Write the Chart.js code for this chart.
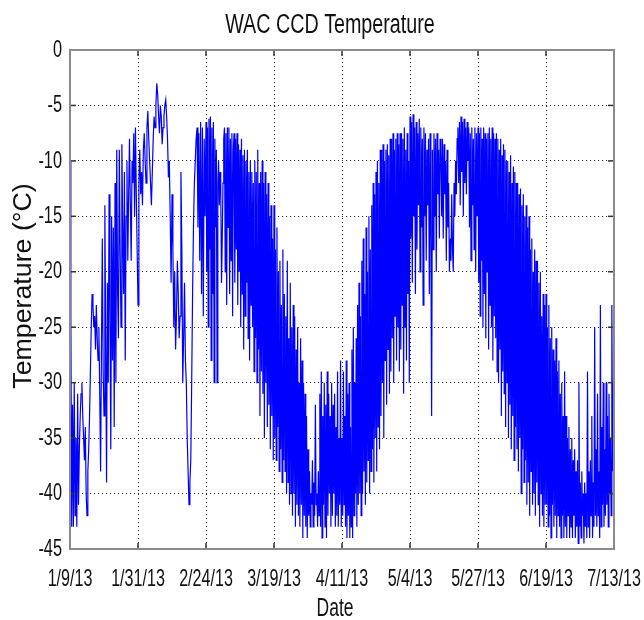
<!DOCTYPE html>
<html><head><meta charset="utf-8">
<script src="https://cdn.jsdelivr.net/npm/chart.js@4.4.1/dist/chart.umd.min.js"></script>
<style>html,body{margin:0;padding:0;background:#fff;}#wrap{width:644px;height:620px;}</style>
</head><body><div id="wrap"><canvas id="c" width="644" height="620"></canvas></div>
<script>
const chartTitle = 'WAC CCD Temperature';
const xAxisTitle = 'Date';
const yAxisTitle = 'Temperature (°C)';
const dateLabels = ['1/9/13','1/31/13','2/24/13','3/19/13','4/11/13','5/4/13','5/27/13','6/19/13','7/13/13'];
const yMin = -45, yMax = 0, yStep = 5;

// temperature readings (°C), one array per tick interval
const temps1 = [-10,-24,-43,-32,-43,-30,-42,-35,-43,-31,-41,-36,
  -33,-31,-30,-33,-35,-37,-34,-40,-42,-38,
  -36,-33,-29,-25,-22,-23,-25,-24,-27,-23,-26,-28,
  -25,-31,-38,-27,-17,-29,-33,-14,-26,-39,-21,-30,
  -13,-24,-36,-15,-28,-16,-34,-12,-30,-9,-22,-26,
  -9,-18,-25,-8.5,-16,-22,-11,-28,-15,-10,-19,-13,
  -8,-14,-19,-10,-12,-7.5,-15,-7,-13,-18];
const temps2 = [-23,-12,-9,-13,-11,-14,-9,-7.5,-10,-12,-7,-5.5,
  -8,-10,-12,-14,-11,-8,-6,-7,-5,-3,
  -4,-6,-7.5,-5,-6,-8.5,-7,-6,-5,-4.5,
  -6,-8,-11.5,-10,-15,-21,-13,-18,-25,-20,
  -27,-24,-19,-22,-26,-24,-11,-18,-30,-26,-21,-28,
  -30,-35,-38,-41,-39,-37,-30,-22,-16,-12,-10,-8,
  -7,-16,-7.5,-19,-6.5,-22,-7,-24,-8,-15];
const temps3 = [-6.5,-20,-7,-25,-6.2,-18,-6,-28,-7,-22,-6.5,-30,-8,-16,
  -9,-30,-12,-10,-14,-11,-13,-21,-17,-12,
  -8,-7,-20,-7.5,-23,-7,-16,-7,-22,-8,-19,-7.5,-24,-9,
  -7.5,-21,-8,-18,-7.5,-23,-8.5,-20,-9,-25,-8,-22,-9.5,-27,
  -9,-24,-10,-21,-9,-26,-11,-28,-10,-23,-11,-25,-12,-29,
  -10,-26,-11,-30,-9,-27,-12,-33,-11,-29,-10,-31,-12,-35,
  -11,-30,-13,-34,-12,-32,-15,-36,-14,-33,-17,-37];
const temps4 = [-14,-35,-18,-37,-16,-34,-20,-38,-19,-36,-23,-39,-18,-37,
  -22,-38,-24,-40,-19,-39,-26,-41,-21,-40,-25,-42,-23,-40,
  -24,-43,-27,-41,-25,-42,-30,-43,-26,-41,-28,-44,-30,-42,
  -31,-43,-33,-44,-36,-42,-38,-43,-40,-41,-37,-43,
  -39,-42,-32,-41,-40,-43,-38,-42,-31,-43,-29,-44,
  -33,-41,-30,-43,-32,-44,-29,-42,-31,-40,-33,-43,-30,-42,
  -32,-40,-31,-43,-34,-42,-29,-43,-35,-41,-28,-43];
const temps5 = [-35,-42,-29,-41,-33,-43,-28,-44,-31,-42,-30,-44,-34,-43,
  -27,-44,-25,-42,-30,-40,-26,-43,-23,-41,-21,-40,-24,-42,
  -19,-40,-17,-38,-22,-41,-16,-39,-20,-37,-15,-40,-18,-38,
  -14,-36,-12,-39,-13,-35,-11,-38,-10,-34,-12,-36,-9,-33,
  -9,-30,-8.5,-35,-10,-28,-9,-32,-8.5,-27,-9.5,-31,-8,-29,
  -8,-26,-7.5,-30,-9,-24,-8,-28,-7.5,-25,-8.5,-29,-7.5,-27,
  -7.5,-23,-8,-31,-7,-25,-9,-28,-7.5,-22,-10,-30];
const temps6 = [-6,-17,-6.5,-21,-5.8,-15,-7,-22,-6.5,-18,-7.5,-14,-6.2,-20,
  -7,-16,-8,-23,-7,-15,-7.5,-19,-9,-14,-8,-22,-7.5,-17,
  -33,-9,-18,-7.5,-15,-8,-20,-7.5,-13,-9,-17,-8,
  -9,-15,-8,-17,-8.5,-13,-10,-19,-9,-16,-12,-20,
  -17,-19,-13,-18,-20,-12,-15,-10,-13,-8,
  -7,-12,-6.5,-14,-6,-11,-6.5,-15,-6.2,-12,-7,-13,-6.5,-10,
  -7,-16,-7.5,-19,-7,-14,-8,-18,-7,-20,-7.5,-15];
const temps7 = [-7,-21,-7.5,-24,-7,-19,-8,-25,-7,-22,-7.5,-26,-8,-20,
  -7.5,-27,-7,-23,-8,-25,-7,-28,-7.5,-24,-8,-26,-7.5,-29,
  -8,-30,-9,-27,-8,-33,-9.5,-29,-8.5,-31,-9,-34,-10,-30,
  -10,-35,-11,-32,-9.5,-36,-12,-33,-10.5,-37,-11,-34,-12,-36,
  -12,-38,-13,-35,-12.5,-40,-14,-36,-13,-39,-15,-37,-14,-41,
  -16,-39,-15,-42,-18,-38,-17,-41,-20,-40,-18,-42,-19,-39,
  -19,-41,-21,-43,-20,-40,-24,-42,-22,-43,-23,-41];
const temps8 = [-22,-41,-25,-43,-23,-42,-26,-44,-25,-41,-27,-43,-28,-42,
  -26,-44,-29,-42,-28,-43,-31,-44,-30,-42,-33,-44,-29,-43,
  -33,-44,-35,-42,-34,-44,-36,-43,-35,-44,-37,-42,-36,-44,
  -38,-43,-37,-44.5,-30,-43,-39,-44,-38,-42,-40,-44.5,-39,-43,
  -40,-44,-29,-43,-38,-44,-37,-42,-33,-44,-39,-43,-25,-42,
  -36,-43,-31,-42,-38,-44,-23,-43,-34,-41,-30,-43,-36,-42,
  -30,-41,-33,-43,-31,-40,-35,-42,-23,-38,-30,-36];

const segments = [temps1,temps2,temps3,temps4,temps5,temps6,temps7,temps8];
const points = [];
segments.forEach((seg, k) => {
  const last = k === segments.length - 1;
  seg.forEach((v, j) => {
    points.push({x: k + j / (last ? seg.length - 1 : seg.length), y: v});
  });
});

const FONT = '"Liberation Sans", Arial, sans-serif';
function drawText(ctx, text, x, y, size, sx, align, baseline, rot) {
  ctx.save();
  ctx.translate(x, y);
  if (rot) ctx.rotate(rot);
  ctx.scale(sx, 1);
  ctx.font = size + 'px ' + FONT;
  ctx.fillStyle = '#111';
  ctx.textAlign = align;
  ctx.textBaseline = baseline;
  ctx.fillText(text, 0, 0);
  ctx.restore();
}

const decor = {
  id: 'decor',
  afterDraw(chart) {
    const {ctx, chartArea: a, scales: {x, y}} = chart;
    ctx.save();
    ctx.strokeStyle = '#333';
    ctx.lineWidth = 1.5;
    const line = (x1, y1, x2, y2) => { ctx.beginPath(); ctx.moveTo(x1, y1); ctx.lineTo(x2, y2); ctx.stroke(); };
    x.ticks.forEach(t => {
      const px = x.getPixelForValue(t.value);
      line(px, a.bottom, px, a.bottom - 6);
      line(px, a.top, px, a.top + 6);
    });
    y.ticks.forEach(t => {
      const py = y.getPixelForValue(t.value);
      line(a.left, py, a.left + 6, py);
      line(a.right, py, a.right - 6, py);
    });
    ctx.strokeStyle = '#8a8a8a';
    ctx.lineWidth = 2;
    ctx.strokeRect(a.left, a.top, a.right - a.left, a.bottom - a.top);
    ctx.restore();

    x.ticks.forEach(t => {
      const px = x.getPixelForValue(t.value);
      drawText(ctx, dateLabels[t.value], px, 586, 24, 0.67, 'center', 'alphabetic');
    });
    y.ticks.forEach(t => {
      const py = y.getPixelForValue(t.value);
      drawText(ctx, String(t.value), 62, py, 24, 0.68, 'right', 'middle');
    });
    drawText(ctx, chartTitle, 330, 33, 27, 0.73, 'center', 'alphabetic');
    drawText(ctx, xAxisTitle, 335, 616, 25, 0.7, 'center', 'alphabetic');
    drawText(ctx, yAxisTitle, 31, 286, 25, 1.07, 'center', 'alphabetic', -Math.PI / 2);
  }
};

new Chart(document.getElementById('c'), {
  type: 'line',
  data: {
    datasets: [{
      data: points,
      borderColor: '#0000ff',
      borderWidth: 1.2,
      pointRadius: 0,
      tension: 0,
      fill: false
    }]
  },
  options: {
    responsive: false,
    animation: false,
    devicePixelRatio: 1,
    layout: {padding: {left: 70, right: 30, top: 50, bottom: 71}},
    plugins: {legend: {display: false}, title: {display: false}, tooltip: {enabled: false}},
    scales: {
      x: {
        type: 'linear', min: 0, max: 8,
        ticks: {display: false, stepSize: 1},
        grid: {color: '#222', lineWidth: 1, drawTicks: false},
        border: {display: false, dash: [1, 3]},
        afterFit(s) { s.height = 0; }
      },
      y: {
        type: 'linear', min: yMin, max: yMax,
        ticks: {display: false, stepSize: yStep},
        grid: {color: '#222', lineWidth: 1, drawTicks: false},
        border: {display: false, dash: [1, 3]},
        afterFit(s) { s.width = 0; }
      }
    }
  },
  plugins: [decor]
});
</script>
</body></html>
